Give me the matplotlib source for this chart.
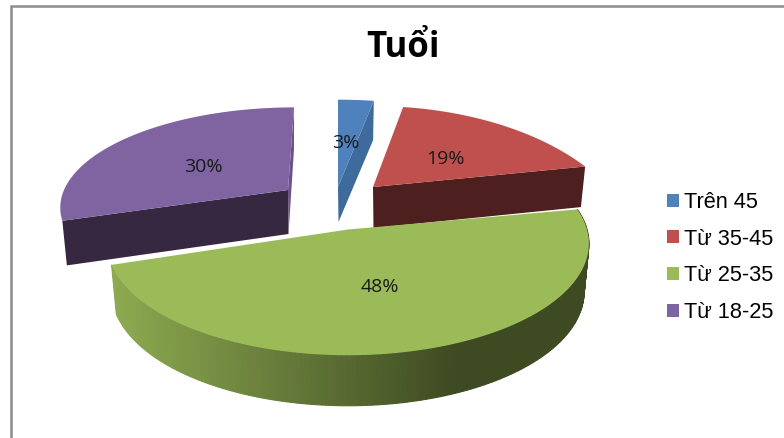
import numpy as np
import matplotlib
matplotlib.use("Agg")
import matplotlib.pyplot as plt
from matplotlib.patches import Polygon, Patch

labels = ["Trên 45", "Từ 35-45", "Từ 25-35", "Từ 18-25"]
values = [3, 19, 48, 30]
colors = ["#4F81BD", "#C0504D", "#9BBB59", "#8064A2"]

# apex x, apex y, a, b, perspective, rim height, rim height at apex, skew
geom = [
    (338, 187, 255, 117, 0.34, 41, 35, 0),
    (373, 187, 235, 119, 0.47, 41, 41, 0),
    (348, 229.5, 239, 110, 0.125, 48, 48, 0),
    (288, 190, 224, 95, 0.15, 44, 44, 7),
]


def project(g, ang, drop=0.0):
    px, py, a, b, p, h, h0, sk = g
    t = np.radians(ang)
    u, v = np.sin(t), np.cos(t)
    s = 1 / (1 + p * v)
    k = drop / h
    x = px + (a * u + sk * v) * s * (1 - 0.02 * k)
    y = py - b * v * s * (1 + 0.02 * k) + drop
    return x, y


def top_face(g, a0, a1):
    ang = np.linspace(a0, a1, 80)
    xs, ys = project(g, ang)
    return np.column_stack([np.r_[g[0], xs], np.r_[g[1], ys]])


def cut_face(g, ang):
    x1, y1 = project(g, ang)
    x2, y2 = project(g, ang, drop=g[5])
    return [(g[0], g[1]), (x1, y1), (x2, y2), (g[0] + 0.5, g[1] + g[6])]


edges = np.r_[0, np.cumsum(values)] * 3.6

fig = plt.figure(figsize=(7.84, 4.38), dpi=100)
ax = fig.add_axes([0, 0, 1, 1])
ax.set_xlim(0, 784)
ax.set_ylim(438, 0)
ax.axis("off")

# frame, only top and left show in the crop
ax.plot([11, 11, 784], [438, 6, 6], color="#8C8C8C", lw=1.8, solid_joinstyle="miter")

# purple
g = geom[3]
ax.add_patch(Polygon(cut_face(g, edges[3]), fc="#362840", ec="none", zorder=2))
ax.add_patch(Polygon(cut_face(g, edges[4]), fc="#6A5387", ec="none", zorder=2))
ax.add_patch(Polygon(top_face(g, edges[3], edges[4]), fc=colors[3], ec="none", zorder=3))

# blue
g = geom[0]
ax.add_patch(Polygon(cut_face(g, edges[1]), fc="#3E6A9C", ec="none", zorder=2))
ax.add_patch(Polygon(top_face(g, edges[0], edges[1]), fc=colors[0], ec="none", zorder=3))

# red
g = geom[1]
ax.add_patch(Polygon(cut_face(g, edges[2]), fc="#4D1F1E", ec="none", zorder=2))
ax.add_patch(Polygon(top_face(g, edges[1], edges[2]), fc=colors[1], ec="none", zorder=3))

# green, outer rim shaded in thin strips from left to right
g = geom[2]
rim_light = np.array([0x8D, 0xAA, 0x50]) / 255
rim_dark = np.array([0x3E, 0x4A, 0x22]) / 255
ang = np.linspace(edges[3], edges[2], 160)
xs, ys = project(g, ang)
xb, yb = project(g, ang, drop=g[5])
for i in range(len(ang) - 1):
    f = min(1, max(0, (xs[i] - 112) / (455 - 112)))
    col = rim_light + (rim_dark - rim_light) * f
    ax.add_patch(Polygon([(xs[i], ys[i]), (xs[i + 1], ys[i + 1]),
                          (xb[i + 1], yb[i + 1]), (xb[i], yb[i])],
                         fc=col, ec=col, lw=0.8, zorder=4))
ax.add_patch(Polygon(top_face(g, edges[2], edges[3]), fc=colors[2], ec="none", zorder=5))

# labels
pct_xy = [(346, 148), (445, 164), (380, 292), (203, 172)]
for val, (x, y) in zip(values, pct_xy):
    ax.text(x, y, f"{val}%", ha="center", va="baseline", fontsize=14,
            family="Open Sans", color="#1A1A1A", zorder=6)

ax.text(403, 57, "Tuổi", ha="center", va="baseline", fontsize=25, fontweight="bold",
        family="Open Sans", color="black", zorder=6)

handles = [Patch(fc=c, ec="none") for c in colors]
ax.legend(handles, labels, loc="center left", bbox_to_anchor=(667 / 784, 1 - 257.5 / 438),
          frameon=False, prop={"family": "Liberation Sans", "size": 15.7},
          handlelength=0.53, handleheight=0.53, handletextpad=0.27, labelspacing=0.72,
          borderpad=0, borderaxespad=0)

plt.savefig("out.png", dpi=100)
